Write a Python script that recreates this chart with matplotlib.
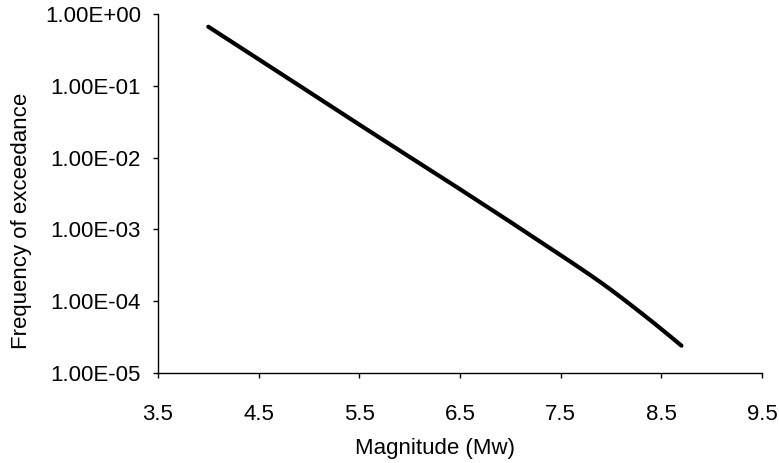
import matplotlib
matplotlib.use("Agg")
import matplotlib.pyplot as plt
from matplotlib.ticker import FuncFormatter, FixedLocator, NullLocator

plt.rcParams['font.family'] = ['Liberation Sans', 'DejaVu Sans']

magnitude = [4.0, 4.5, 5.0, 5.5, 6.0, 6.5, 7.0, 7.5, 7.6, 7.7, 7.8, 7.9,
             8.0, 8.1, 8.2, 8.3, 8.4, 8.5, 8.6, 8.7]
frequency = [0.665, 0.234, 0.0822, 0.0288, 0.0102, 3.63e-3, 1.27e-3, 4.37e-4,
             3.53e-4, 2.84e-4, 2.28e-4, 1.82e-4, 1.44e-4, 1.13e-4, 8.81e-5,
             6.85e-5, 5.31e-5, 4.09e-5, 3.14e-5, 2.40e-5]
x_ticks = [3.5, 4.5, 5.5, 6.5, 7.5, 8.5, 9.5]
y_ticks = [1e-5, 1e-4, 1e-3, 1e-2, 1e-1, 1e0]

fig = plt.figure(figsize=(7.79, 4.63), dpi=100)
ax = fig.add_axes([158 / 779, 90 / 463, 604 / 779, 359 / 463])
ax.plot(magnitude, frequency, color='black', lw=3, solid_capstyle='round',
        solid_joinstyle='round')
ax.set_yscale('log')
ax.set_xlim(3.5, 9.5)
ax.set_ylim(1e-5, 1e0)
ax.xaxis.set_major_locator(FixedLocator(x_ticks))
ax.yaxis.set_major_locator(FixedLocator(y_ticks))
ax.yaxis.set_minor_locator(NullLocator())
ax.xaxis.set_major_formatter(FuncFormatter(lambda v, p: f"{v:.1f}"))
ax.yaxis.set_major_formatter(FuncFormatter(lambda v, p: f"{v:.2E}"))

for s in ['top', 'right']:
    ax.spines[s].set_visible(False)
for s in ['left', 'bottom']:
    ax.spines[s].set_linewidth(1.0)
ax.tick_params(axis='both', direction='out', length=3.6, width=1, labelsize=16, colors='black')
ax.tick_params(axis='x', pad=18.7)
ax.tick_params(axis='y', pad=8.6)
ax.set_xlabel('Magnitude (Mw)', fontsize=16)
ax.set_ylabel('Frequency of exceedance', fontsize=16)
ax.xaxis.set_label_coords(0.4586, -0.181)
ax.yaxis.set_label_coords(-0.2086, 0.4234)

fig.savefig('out.png', dpi=100)
